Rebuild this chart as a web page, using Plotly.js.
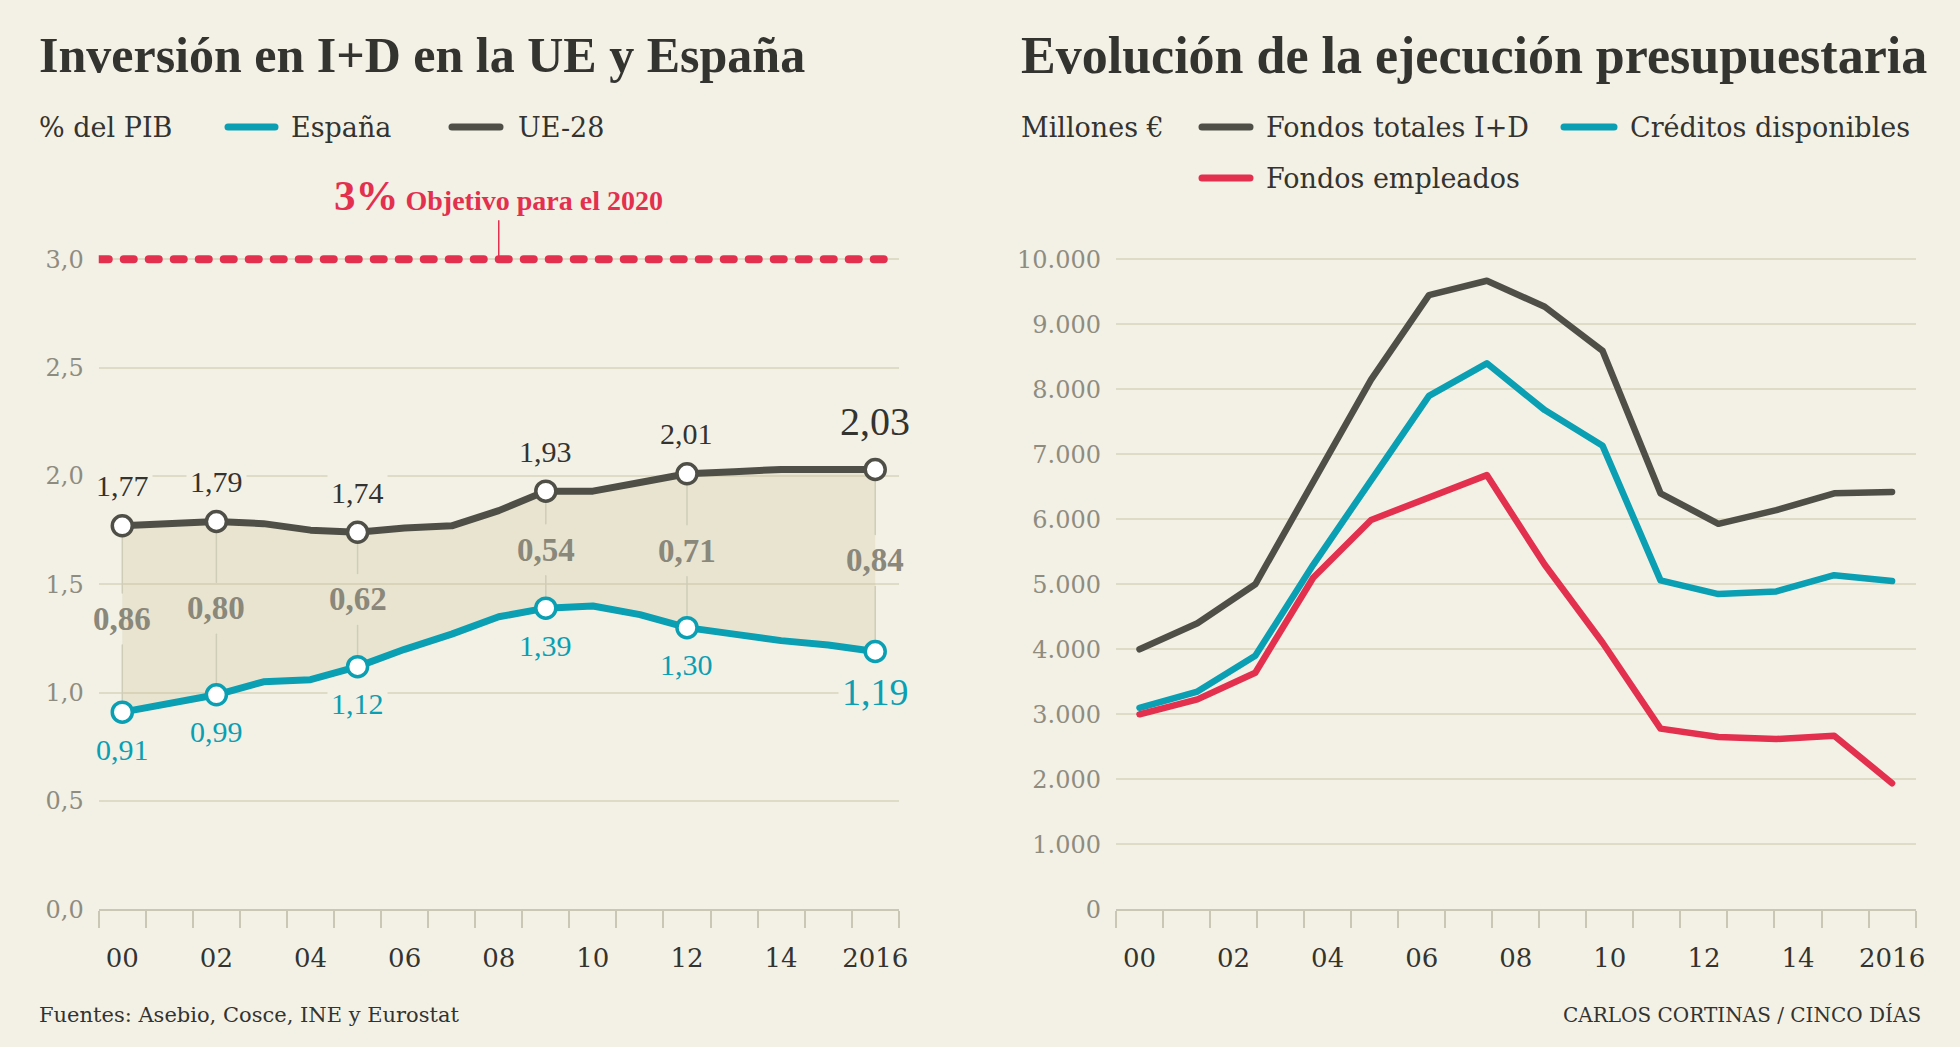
<!DOCTYPE html>
<html><head><meta charset="utf-8">
<script src="https://cdn.plot.ly/plotly-3.0.1.min.js"></script>
<style>
html,body{margin:0;padding:0;background:#f3f1e6;}
#chart{width:1960px;height:1047px;}
.js-line{stroke-linecap:round;stroke-linejoin:round;}
.shapelayer path{stroke-linecap:round;}
</style></head><body><div id="chart"></div>
<script>
// ---------- DATA ----------
const anios = [2000,2001,2002,2003,2004,2005,2006,2007,2008,2009,2010,2011,2012,2013,2014,2015,2016];
const ue28 = [1.77,1.78,1.79,1.78,1.75,1.74,1.76,1.77,1.84,1.93,1.93,1.97,2.01,2.02,2.03,2.03,2.03];
const espana = [0.91,0.95,0.99,1.05,1.06,1.12,1.20,1.27,1.35,1.39,1.40,1.36,1.30,1.27,1.24,1.22,1.19];
const aniosDestacados = [2000,2002,2005,2009,2012,2016];
const objetivo2020 = 3.0;
const ticksAnios = [2000,2002,2004,2006,2008,2010,2012,2014,2016];
const ticksTexto = ['00','02','04','06','08','10','12','14','2016'];
const ticksPIB = [0,0.5,1,1.5,2,2.5,3];
const ticksMillones = [0,1000,2000,3000,4000,5000,6000,7000,8000,9000,10000];

const presupuestoAnios = [2003,2004,2005,2006,2007,2008,2009,2010,2011,2012,2013,2014,2015,2016];
const fondosTotales = [4000,4400,5000,6600,8150,9450,9670,9270,8590,6400,5930,6140,6400,6420];
const creditosDisponibles = [3100,3350,3900,5300,6600,7900,8400,7680,7130,5060,4850,4890,5140,5050];
const fondosEmpleados = [3000,3230,3640,5100,5990,6340,6680,5300,4100,2780,2650,2620,2670,1940];

// ---------- STYLE ----------
const BG='#f3f1e6', GRID='#dedbc6', AXIS='#cac7b5', DARK='#4f4f47', TEAL='#0a9fb3', RED='#e3304f';
const TXT='#333330', TICK='#8e8c80', GAP='#8a877b', CONN='#cfccb8';
const SERIF='"Liberation Serif", serif';
const BODY='"DejaVu Serif", serif';
const W=1960, H=1047;
const px = v => v/W, py = v => 1 - v/H;
const fmt = v => v.toFixed(2).replace('.', ',');
const yDom = [py(909.3), py(226.8)];

const idx = y => anios.indexOf(y);
const ueD = aniosDestacados.map(y => ue28[idx(y)]);
const esD = aniosDestacados.map(y => espana[idx(y)]);
const mid = aniosDestacados.map((y,i) => (ueD[i]+esD[i])/2);
const half = 0.12;

const cx = [], cy = [];
aniosDestacados.forEach((y,i) => {
  cx.push(y, y, null, y, y, null);
  cy.push(ueD[i], mid[i]+half, null, mid[i]-half, esD[i], null);
});

const boundaries = anios.concat([anios[anios.length-1]+1]).map(v => v-0.5);

// right chart: its points run from the first to the last year bin of the shared year scale
const nP = presupuestoAnios.length;
const posP = y => presupuestoAnios[0] + (y - anios[0]) * (nP-1) / (anios.length-1);

const traces = [
  {x:anios, y:espana, mode:'lines', line:{width:0, color:'rgba(0,0,0,0)'}, hoverinfo:'skip', showlegend:false},
  {x:anios, y:ue28, mode:'lines', fill:'tonexty', fillcolor:'rgba(205,195,150,0.28)', line:{width:0, color:'rgba(0,0,0,0)'}, hoverinfo:'skip', showlegend:false},
  {x:cx, y:cy, mode:'lines', line:{width:1.5, color:CONN}, hoverinfo:'skip', showlegend:false},
  {x:[boundaries[0], boundaries[boundaries.length-1]], y:[objetivo2020, objetivo2020], mode:'lines', line:{width:8, color:RED, dash:'10px,15px'}, showlegend:false, cliponaxis:false},
  {x:anios, y:ue28, mode:'lines', name:'UE-28', line:{width:7, color:DARK}, showlegend:false},
  {x:anios, y:espana, mode:'lines', name:'España', line:{width:7, color:TEAL}, showlegend:false},
  {x:aniosDestacados, y:ueD, mode:'markers', marker:{size:20, color:'#ffffff', line:{width:3.5, color:DARK}}, showlegend:false, cliponaxis:false},
  {x:aniosDestacados, y:esD, mode:'markers', marker:{size:20, color:'#ffffff', line:{width:3.5, color:TEAL}}, showlegend:false, cliponaxis:false},
  // right chart
  {x:presupuestoAnios, y:fondosTotales, mode:'lines', name:'Fondos totales I+D', line:{width:6.5, color:DARK}, xaxis:'x2', yaxis:'y2', showlegend:false},
  {x:presupuestoAnios, y:creditosDisponibles, mode:'lines', name:'Créditos disponibles', line:{width:6.5, color:TEAL}, xaxis:'x2', yaxis:'y2', showlegend:false},
  {x:presupuestoAnios, y:fondosEmpleados, mode:'lines', name:'Fondos empleados', line:{width:6.5, color:RED}, xaxis:'x2', yaxis:'y2', showlegend:false}
];

function xAxis(dom, anchor, map){
  return {
    domain:dom, anchor:anchor,
    range:[map(boundaries[0]), map(boundaries[boundaries.length-1])],
    tickmode:'array', tickvals:ticksAnios.map(map), ticktext:ticksTexto,
    ticks:'', showgrid:false, zeroline:false, showline:true, linecolor:AXIS, linewidth:2,
    tickfont:{family:BODY, size:26, color:TXT}, ticklabelstandoff:24, fixedrange:true,
    minor:{tickmode:'array', tickvals:boundaries.map(map), ticks:'outside', ticklen:17, tickwidth:2, tickcolor:AXIS, showgrid:false}
  };
}
function yAxis(anchor, range, vals, format){
  return {domain:yDom, anchor:anchor, range:range, tickmode:'array', tickvals:vals, tickformat:format,
    showgrid:true, gridcolor:GRID, gridwidth:2, zeroline:false, ticks:'', showline:false,
    tickfont:{family:BODY, size:24, color:TICK}, ticklabelstandoff:14, fixedrange:true};
}

const ann = [];
function txt(x, y, text, size, color, anchor, family){
  ann.push({xref:'paper', yref:'paper', x:px(x), y:py(y), text:text, showarrow:false,
    xanchor:anchor||'left', yanchor:'middle', font:{family:family||BODY, size:size, color:color}});
}
// titles
txt(37, 55, '<b>Inversión en I+D en la UE y España</b>', 50, TXT, 'left', SERIF);
txt(1019, 55, '<b>Evolución de la ejecución presupuestaria</b>', 52, TXT, 'left', SERIF);
// legends
txt(37, 127, '% del PIB', 27, TXT);
txt(289, 127, 'España', 27, TXT);
txt(516, 127, 'UE-28', 27, TXT);
txt(1019, 127, 'Millones €', 27, TXT);
txt(1264, 127, 'Fondos totales I+D', 27, TXT);
txt(1628, 127, 'Créditos disponibles', 27, TXT);
txt(1264, 178, 'Fondos empleados', 27, TXT);
// footer
txt(37, 1015, 'Fuentes: Asebio, Cosce, INE y Eurostat', 21, TXT);
txt(1923, 1015, 'CARLOS CORTINAS / CINCO DÍAS', 20, TXT, 'right');

// objective note
ann.push({xref:'x', yref:'y', x:ticksAnios[4], y:objetivo2020, ax:0, ay:-64, showarrow:true, arrowhead:0, arrowwidth:1.5, arrowcolor:RED,
  text:'<b><span style="font-size:43px">3%</span> Objetivo para el 2020</b>', font:{family:SERIF, size:28, color:RED}, xanchor:'center'});

// data labels
aniosDestacados.forEach((y,i) => {
  const last = i === aniosDestacados.length-1;
  ann.push({xref:'x', yref:'y', x:y, y:ueD[i], text:fmt(ueD[i]), showarrow:false, yshift: last?48:40,
    font:{family:SERIF, size: last?40:30, color:TXT}, bgcolor:BG, borderpad:3});
  ann.push({xref:'x', yref:'y', x:y, y:esD[i], text:fmt(esD[i]), showarrow:false, yshift: last?-41:-37,
    font:{family:SERIF, size: last?38:30, color:TEAL}, bgcolor:BG, borderpad:3});
  ann.push({xref:'x', yref:'y', x:y, y:mid[i], text:'<b>'+fmt(ueD[i]-esD[i])+'</b>', showarrow:false,
    font:{family:SERIF, size:33, color:GAP}});
});

const shapes = [];
function sw(x0, x1, y, color){
  shapes.push({type:'line', xref:'paper', yref:'paper', x0:px(x0), x1:px(x1), y0:py(y), y1:py(y), line:{color:color, width:7}});
}
sw(228, 275, 127, TEAL);
sw(452, 500, 127, DARK);
sw(1202, 1250, 127, DARK);
sw(1564, 1614, 127, TEAL);
sw(1202, 1250, 178, RED);

const ident = v => v;
const layout = {
  width:W, height:H, margin:{l:0, r:0, t:0, b:0}, paper_bgcolor:BG, plot_bgcolor:'rgba(0,0,0,0)',
  separators:',.', showlegend:false, font:{family:BODY},
  xaxis: xAxis([px(98.75), px(898.75)], 'y', ident),
  yaxis: yAxis('x', [0, 3.15], ticksPIB, '.1f'),
  xaxis2: xAxis([px(1116), px(1915.6)], 'y2', posP),
  yaxis2: yAxis('x2', [0, 10500], ticksMillones, ',d'),
  annotations: ann, shapes: shapes
};

Plotly.newPlot('chart', traces, layout, {displayModeBar:false, staticPlot:true});
</script></body></html>
